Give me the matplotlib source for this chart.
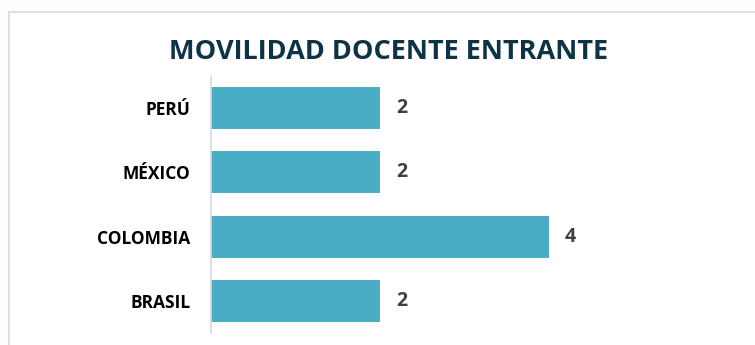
import matplotlib
matplotlib.use("Agg")
import matplotlib.pyplot as plt
from matplotlib.patches import Rectangle

# Incoming teaching staff mobility by country of origin
countries = ["PERÚ", "MÉXICO", "COLOMBIA", "BRASIL"]
teachers = [2, 2, 4, 2]
title = "MOVILIDAD DOCENTE ENTRANTE"

bar_color = "#4BACC6"
title_color = "#0E3347"
label_color = "#404040"

W, H = 755, 345
fig = plt.figure(figsize=(W / 100, H / 100), dpi=100)
fig.patch.set_facecolor("#FDFDFB")
plt.rcParams["font.family"] = ["Open Sans", "DejaVu Sans"]

# white chart area with a thin grey frame, running off the right and bottom edges
frame = Rectangle((9 / W, -0.2), 1.2, 1.2 - 11.5 / H, transform=fig.transFigure,
                  facecolor="white", edgecolor="#D9D9D9", linewidth=1.2,
                  clip_on=False, zorder=-5)
fig.add_artist(frame)

fig.text(389 / W, 1 - 52 / H, title, ha="center", va="center",
         fontsize=19.5, fontweight="bold", color=title_color)

left, right = 211 / W, 718 / W
top, bottom = 1 - 76 / H, 1 - 333 / H
ax = fig.add_axes([left, bottom, right - left, top - bottom])
ax.set_facecolor("none")

ypos = list(range(len(countries)))
ax.barh(ypos, teachers, height=0.655, color=bar_color)
ax.set_ylim(len(countries) - 0.5, -0.5)
ax.set_xlim(0, 6)

for y, v in zip(ypos, teachers):
    ax.annotate(str(v), (v, y), xytext=(11.5, 0), textcoords="offset points",
                ha="left", va="center", fontsize=14, fontweight="bold",
                color=label_color)

ax.set_yticks(ypos)
ax.set_yticklabels(countries, fontsize=12.5, fontweight="bold", color="black")
ax.tick_params(axis="y", length=0, pad=15)
ax.set_xticks([])
for side in ["top", "right", "bottom"]:
    ax.spines[side].set_visible(False)
ax.spines["left"].set_color("#D9D9D9")
ax.spines["left"].set_linewidth(1.2)

fig.savefig("out.png", dpi=100, facecolor=fig.get_facecolor())
